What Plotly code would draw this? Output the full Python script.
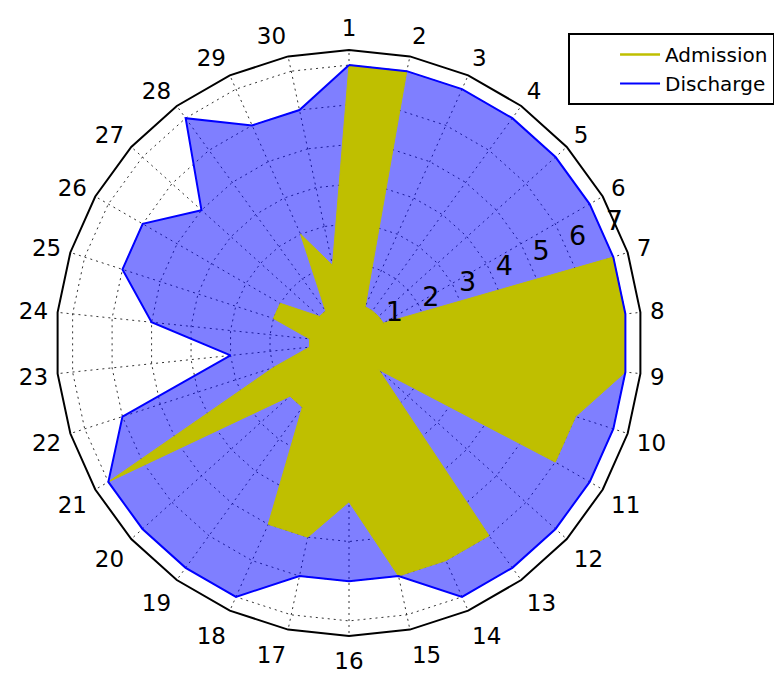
import plotly.graph_objects as go

categories = ["1", "2", "3", "4", "5", "6", "7", "8", "9", "10",
              "11", "12", "13", "14", "15", "16", "17", "18", "19", "20",
              "21", "22", "23", "24", "25", "26", "27", "28", "29", "30"]
admission = [7, 7, 1, 1, 1, 1, 7, 7, 7, 6,
             6, 1, 6, 6, 6, 4, 5, 5, 2, 2,
             7, 2, 1, 1, 2, 2, 1, 1, 3, 2]
discharge = [7, 7, 7, 7, 7, 7, 7, 7, 7, 7,
             7, 7, 7, 7, 6, 6, 6, 7, 7, 7,
             7, 6, 3, 5, 6, 6, 5, 7, 6, 6]
radial_ticks = [1, 2, 3, 4, 5, 6, 7]
radial_labels = ["1", "2", "3", "4", "5", "6", "7"]

theta_closed = categories + categories[:1]
adm_closed = admission + admission[:1]
dis_closed = discharge + discharge[:1]

YEL = "#bfbf00"
BLUE = "#0000ff"
GRID = "rgba(0,0,0,0.8)"
DASH = "2px,4px"
RMAX = 7.38
LABEL_ANGLE = 67.5  # degrees clockwise from north (matplotlib default r-label position)
DOMAIN = dict(x=[0.06202, 0.81912], y=[0.05706, 0.93694])

fig = go.Figure()
fig.add_trace(go.Scatterpolar(
    r=dis_closed, theta=theta_closed, mode="lines", fill="toself",
    fillcolor="rgba(0,0,255,0.5)", line=dict(color="rgba(0,0,255,0)", width=0),
    showlegend=False, hoverinfo="skip"))
fig.add_trace(go.Scatterpolar(
    r=adm_closed, theta=theta_closed, mode="lines", fill="toself",
    fillcolor=YEL, line=dict(color=YEL, width=1),
    showlegend=False, name="Admission"))
fig.add_trace(go.Scatterpolar(
    r=[None], theta=[None], mode="lines", line=dict(color=YEL, width=2.5),
    name="Admission", showlegend=True))
fig.add_trace(go.Scatterpolar(
    r=dis_closed, theta=theta_closed, mode="lines",
    line=dict(color=BLUE, width=2), name="Discharge", showlegend=True))
# radial tick labels, placed through an overlaid polar with the same radial scale
fig.add_trace(go.Scatterpolar(
    r=radial_ticks, theta=[LABEL_ANGLE] * len(radial_ticks),
    mode="text", text=radial_labels, textposition="top right",
    textfont=dict(family="DejaVu Sans", size=27, color="black"),
    subplot="polar2", showlegend=False, hoverinfo="skip"))

FONT = "DejaVu Sans"
fig.update_layout(
    width=774, height=666,
    margin=dict(l=0, r=0, t=0, b=0),
    paper_bgcolor="white",
    font=dict(family=FONT, color="black"),
    showlegend=True,
    legend=dict(x=0.991, xanchor="right", y=0.9625, yanchor="top",
                bordercolor="black", borderwidth=2, bgcolor="white",
                font=dict(family=FONT, size=20, color="black"),
                itemwidth=40, indentation=45, tracegroupgap=0),
    polar=dict(
        domain=DOMAIN,
        bgcolor="white",
        gridshape="linear",
        angularaxis=dict(
            type="category", categoryarray=categories,
            rotation=90, direction="clockwise",
            showline=True, linecolor="black", linewidth=2,
            showgrid=True, gridcolor=GRID, gridwidth=1.3, griddash=DASH,
            ticks="outside", ticklen=4, tickcolor="rgba(0,0,0,0)",
            tickfont=dict(family=FONT, size=23, color="black"),
            layer="above traces"),
        radialaxis=dict(
            range=[0, RMAX], tickvals=radial_ticks,
            showline=False, ticks="", showticklabels=False,
            showgrid=True, gridcolor=GRID, gridwidth=1.3, griddash=DASH,
            layer="above traces"),
    ),
    polar2=dict(
        domain=DOMAIN,
        bgcolor="rgba(0,0,0,0)",
        angularaxis=dict(rotation=90, direction="clockwise", visible=False,
                         showgrid=False, showline=False, showticklabels=False),
        radialaxis=dict(range=[0, RMAX], visible=False, showgrid=False,
                        showline=False, showticklabels=False),
    ),
)

fig.write_html("out.html")
